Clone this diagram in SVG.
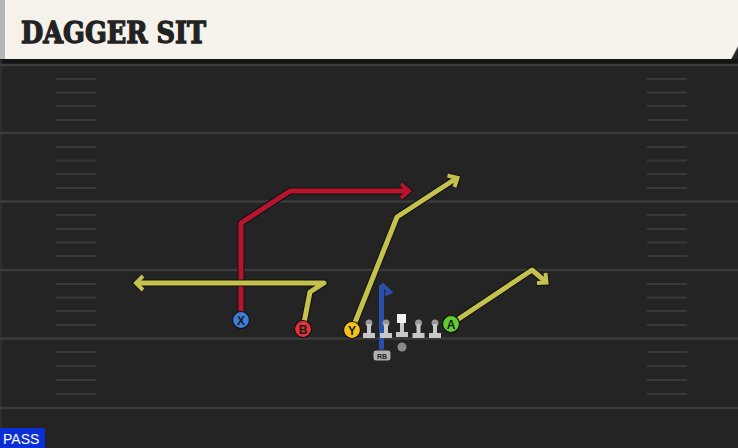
<svg xmlns="http://www.w3.org/2000/svg" width="738" height="448" viewBox="0 0 738 448">
<defs>
<style>
.yard{stroke:#3b3b3b;stroke-width:2.5}
.hash{stroke:#393939;stroke-width:2}
.out{fill:none;stroke:#111;stroke-width:7;stroke-linejoin:round;stroke-linecap:butt}
.red{fill:none;stroke:#b8142e;stroke-width:5;stroke-linejoin:round}
.yel{fill:none;stroke:#c4c14c;stroke-width:5;stroke-linejoin:round}
.ah{stroke-width:4;stroke-linejoin:miter;stroke-miterlimit:4}
.aho{stroke-width:6;stroke-linejoin:miter;stroke-miterlimit:4}
.lbl{font-family:"Liberation Sans",Arial,sans-serif;font-weight:bold;font-size:12px;fill:#1a1a1a;text-anchor:middle}
.ol{fill:#c8c8c8}
</style>
</defs>
<rect width="738" height="448" fill="#242424"/>
<rect x="0" y="59" width="738" height="5" fill="#141414"/>
<rect x="0" y="60" width="2" height="388" fill="#2e2e2e"/>
<g id="field">
<line class="yard" x1="0" y1="65" x2="738" y2="65"/>
<line class="yard" x1="0" y1="133" x2="738" y2="133"/>
<line class="yard" x1="0" y1="201.5" x2="738" y2="201.5"/>
<line class="yard" x1="0" y1="270" x2="738" y2="270"/>
<line class="yard" x1="0" y1="338.5" x2="738" y2="338.5"/>
<line class="yard" x1="0" y1="408" x2="738" y2="408"/>
<g id="hashes">
<path class="hash" d="M56 79H96M56 92.5H96M56 106H96M56 120H96M56 147H96M56 160.5H96M56 174H96M56 188H96M56 215H96M56 229H96M56 242.5H96M56 256H96M56 284H96M56 297.5H96M56 311H96M56 325H96M56 352H96M56 366H96M56 380H96M56 394H96"/>
<path class="hash" d="M647 79H687M647 92.5H687M647 106H687M647 120H687M647 147H687M647 160.5H687M647 174H687M647 188H687M647 215H687M647 229H687M647 242.5H687M647 256H687M647 284H687M647 297.5H687M647 311H687M647 325H687M647 352H687M647 366H687M647 380H687M647 394H687"/>
</g>
</g>
<g id="header">
<polygon points="0,0 738,0 738,48 732,59 0,59" fill="#5a5e66"/>
<polygon points="0,0 738,0 738,46 731,59 0,59" fill="#f5f2eb"/>
<rect x="0" y="0" width="5" height="59" fill="#b4b6b4"/>
<text x="21" y="43" font-family="'DejaVu Serif',serif" font-weight="bold" font-size="29" fill="#222" stroke="#222" stroke-width="1.3" textLength="185" lengthAdjust="spacingAndGlyphs">DAGGER SIT</text>
</g>
<g id="connectors">
<g id="route-x">
<path class="out" d="M241 320V223L290 191H408"/>
<polyline class="out aho" points="401,184 409,191 401,198"/>
<path class="red" d="M241 320V223L290 191H408"/>
<polyline class="red ah" points="401,184 409,191 401,198"/>
</g>
<g id="route-b">
<path class="out" d="M303 328L310 292L324 283H137"/>
<polyline class="out aho" points="143,276 136,283 143,290"/>
<path class="yel" d="M303 328L310 292L324 283H137"/>
<polyline class="yel ah" points="143,276 136,283 143,290"/>
</g>
<g id="route-y">
<path class="out" d="M352 330L397 217L456 178.5"/>
<polyline class="out aho" points="447.5,175.5 457.5,178 454.5,187"/>
<path class="yel" d="M352 330L397 217L456 178.5"/>
<polyline class="yel ah" points="447.5,175.5 457.5,178 454.5,187"/>
</g>
<g id="route-a">
<path class="out" d="M451 324L532 270L545 281"/>
<polyline class="out aho" points="537,283 546.5,282.5 545.5,273"/>
<path class="yel" d="M451 324L532 270L545 281"/>
<polyline class="yel ah" points="537,283 546.5,282.5 545.5,273"/>
</g>
<g id="route-rb">
<path fill="none" stroke="#2a4fa8" stroke-width="5" d="M381.5 351V285"/>
<path fill="none" stroke="#2a4fa8" stroke-width="4" stroke-linejoin="miter" d="M381.5 284L390 292L385 294.5"/>
</g>
</g>
<g id="line-left-tackle"><circle cx="369" cy="323" r="3.5" fill="#999"/><rect x="367" y="324" width="4" height="10" class="ol"/><rect x="363" y="333" width="12" height="5" class="ol"/></g>
<g id="line-left-guard"><circle cx="386" cy="323" r="3.5" fill="#999"/><rect x="384" y="324" width="4" height="10" class="ol"/><rect x="380" y="333" width="12" height="5" class="ol"/></g>
<g id="line-center"><rect x="397" y="314" width="9" height="9" fill="#f2f2f2"/><rect x="400" y="323" width="4" height="10" class="ol"/><rect x="396" y="332" width="12" height="5" class="ol"/></g>
<g id="line-right-guard"><circle cx="418.5" cy="323" r="3.5" fill="#999"/><rect x="416.5" y="324" width="4" height="10" class="ol"/><rect x="412.5" y="333" width="12" height="5" class="ol"/></g>
<g id="line-right-tackle"><circle cx="435" cy="323" r="3.5" fill="#999"/><rect x="433" y="324" width="4" height="10" class="ol"/><rect x="429" y="333" width="12" height="5" class="ol"/></g>
<g id="qb"><circle cx="402" cy="347" r="4.5" fill="#8a8a8a"/></g>
<g id="rb"><rect x="373" y="350" width="18" height="11" rx="3" fill="#b0b0b0" stroke="#222" stroke-width="1"/><text x="382" y="358.5" font-family="'Liberation Sans',Arial,sans-serif" font-size="7" font-weight="bold" fill="#222" text-anchor="middle">RB</text></g>
<g id="player-x"><circle cx="241" cy="320" r="8.5" fill="#3d7ed8" stroke="#111" stroke-width="1.2"/><text class="lbl" x="241" y="324.5">X</text></g>
<g id="player-b"><circle cx="303" cy="329" r="8.5" fill="#e0323c" stroke="#111" stroke-width="1.2"/><text class="lbl" x="303" y="333.5">B</text></g>
<g id="player-y"><circle cx="352" cy="330" r="8.5" fill="#f3c31c" stroke="#111" stroke-width="1.2"/><text class="lbl" x="352" y="334.5">Y</text></g>
<g id="player-a"><circle cx="451" cy="324" r="8.5" fill="#62cc32" stroke="#111" stroke-width="1.2"/><text class="lbl" x="451" y="328.5">A</text></g>
<g id="pass-badge"><rect x="0" y="428" width="45" height="20" fill="#0a2fd6"/><text x="3" y="444" font-family="'Liberation Sans',Arial,sans-serif" font-size="14" fill="#fff">PASS</text></g>
</svg>
